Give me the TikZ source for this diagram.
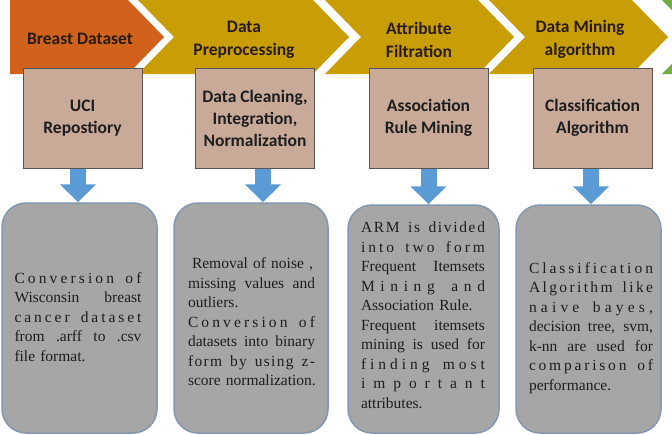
\documentclass[tikz,border=0pt]{standalone}
\usepackage{fontspec}
\setmainfont{Liberation Serif}
\newfontfamily\calibfont{Carlito}
\usetikzlibrary{arrows.meta}

\definecolor{chevorange}{RGB}{208,98,28}
\definecolor{chevgold}{RGB}{201,157,6}
\definecolor{chevgreen}{RGB}{112,173,71}
\definecolor{labeltext}{RGB}{40,28,18}
\definecolor{upfill}{RGB}{201,170,153}
\definecolor{upedge}{RGB}{85,85,85}
\definecolor{boxtext}{RGB}{30,30,30}
\definecolor{lowfill}{RGB}{166,166,166}
\definecolor{lowedge}{RGB}{132,151,176}
\definecolor{lowtxt}{RGB}{30,30,30}
\definecolor{arrowblue}{RGB}{91,155,213}

% justified line: stretch the word spaces
\newcommand{\jline}[1]{\noindent\hbox to \hsize{\spaceskip=\fontdimen2\font plus 1fil\relax #1}}

% spread line: stretch the letters too
\ExplSyntaxOn
\tl_new:N \l_spread_tl
\NewDocumentCommand \sline { m }
  {
    \tl_set:Nn \l_spread_tl { #1 }
    \regex_replace_all:nnN { (.) } { \c{hfil} \1 } \l_spread_tl
    \noindent
    \hbox_to_wd:nn { \hsize } { \skip_horizontal:n { 0pt plus -1fil } \l_spread_tl }
  }
\ExplSyntaxOff

\begin{document}
\begin{tikzpicture}[x = 1pt, y = -1pt,
    chevlabel/.style = {font = \calibfont\bfseries\fontsize{17.5}{23}\selectfont,
      text = labeltext, align = center, inner sep = 0pt},
    upbox/.style = {draw = upedge, line width = 1pt, fill = upfill,
      minimum width = 119pt, minimum height = 100pt, inner sep = 0pt,
      align = center, text = boxtext,
      font = \calibfont\bfseries\fontsize{17.5}{22}\selectfont},
    lowbox/.style = {draw = lowedge, line width = 1.5pt, fill = lowfill,
      rounded corners = 24pt, inner sep = 0pt},
    lowtext/.style = {text width = #1, align = left, inner sep = 0pt,
      text = lowtxt, font = \fontsize{15.5}{19.5}\selectfont},
    blockarrow/.style = {draw = arrowblue, line width = 16pt,
      -{Triangle[width = 35pt, length = 18pt]}}]

    \useasboundingbox (0,0) rectangle (672,434);
    \fill[white] (0,0) rectangle (672,434);
    \clip (0,0) rectangle (672,434);

    % Chevrons
    \fill[chevorange] (10,0) -- (128,0) -- (164,37) -- (128,74) -- (10,74) -- cycle;
    \fill[chevgold] (138,0) -- (313,0) -- (349,37) -- (313,74) -- (138,74) -- (174,37) -- cycle;
    \fill[chevgold] (325,0) -- (478,0) -- (514,37) -- (478,74) -- (325,74) -- (361,37) -- cycle;
    \fill[chevgold] (489,0) -- (632,0) -- (668,37) -- (632,74) -- (489,74) -- (525,37) -- cycle;
    \fill[chevgreen] (662,0) -- (800,0) -- (800,74) -- (662,74) -- (698,37) -- cycle;

    \node[chevlabel] (lab1) at (80,38.5) {Breast Dataset};
    \node[chevlabel] (lab2) at (244,39.5) {Data\\Preprocessing};
    \node[chevlabel] (lab3) at (419,39.5) {Attribute\\Filtration};
    \node[chevlabel] (lab4) at (580,39.5) {Data Mining\\algorithm};


    % Upper boxes
    \node[upbox] (up1) at (82.5,118) {UCI\\Repostiory};
    \node[upbox] (up2) at (255,118) {Data Cleaning,\\Integration,\\Normalization};
    \node[upbox] (up3) at (428.5,118) {Association\\Rule Mining};
    \node[upbox] (up4) at (592.5,118) {Classification\\Algorithm};


    % Lower boxes
    \node[lowbox, minimum width = 155pt, minimum height = 230pt] (low1) at (79.5,318) {};
    \node[lowbox, minimum width = 154pt, minimum height = 230pt] (low2) at (251,318) {};
    \node[lowbox, minimum width = 151pt, minimum height = 228pt] (low3) at (423.5,319) {};
    \node[lowbox, minimum width = 145pt, minimum height = 228pt] (low4) at (588.5,319) {};

    \node[lowtext = 127pt] (txt1) at (78,317) {\sline{Conversion of}\\
      \jline{Wisconsin breast}\\ \sline{cancer dataset}\\
      \jline{from .arff to .csv}\\ file format.};
    \node[lowtext = 127pt] (txt2) at (251.5,322) {\hspace*{4pt}Removal of noise ,\\
      \jline{missing values and}\\ outliers.\\ \sline{Conversion of}\\
      \jline{datasets into binary}\\ \sline{form by using z-}\\ \mbox{score normalization.}};
    \node[lowtext = 124pt] (txt3) at (423,315) {\sline{ARM is divided}\\
      \sline{into two form}\\ \jline{Frequent Itemsets}\\ \sline{Mining and}\\
      Association Rule.\\ \jline{Frequent itemsets}\\ \jline{mining is used for}\\
      \sline{finding most}\\ \sline{important}\\ attributes.};
    \node[lowtext = 124pt] (txt4) at (591,328) {\sline{Classification}\\
      \sline{Algorithm like}\\ \sline{naive bayes,}\\ \jline{decision tree, svm,}\\
      \jline{k-nn are used for}\\ \sline{comparison of}\\ performance.};


    % Arrows
    \draw[blockarrow] ([xshift = -4.5pt]up1.south) -- ([xshift = -4.5pt]up1.south |- low1.north);
    \draw[blockarrow] ([xshift = 8pt]up2.south) -- ([xshift = 8pt]up2.south |- low2.north);
    \draw[blockarrow] (up3.south) -- (up3.south |- low3.north);
    \draw[blockarrow] ([xshift = -1.5pt]up4.south) -- ([xshift = -1.5pt]up4.south |- low4.north);

\end{tikzpicture}
\end{document}
